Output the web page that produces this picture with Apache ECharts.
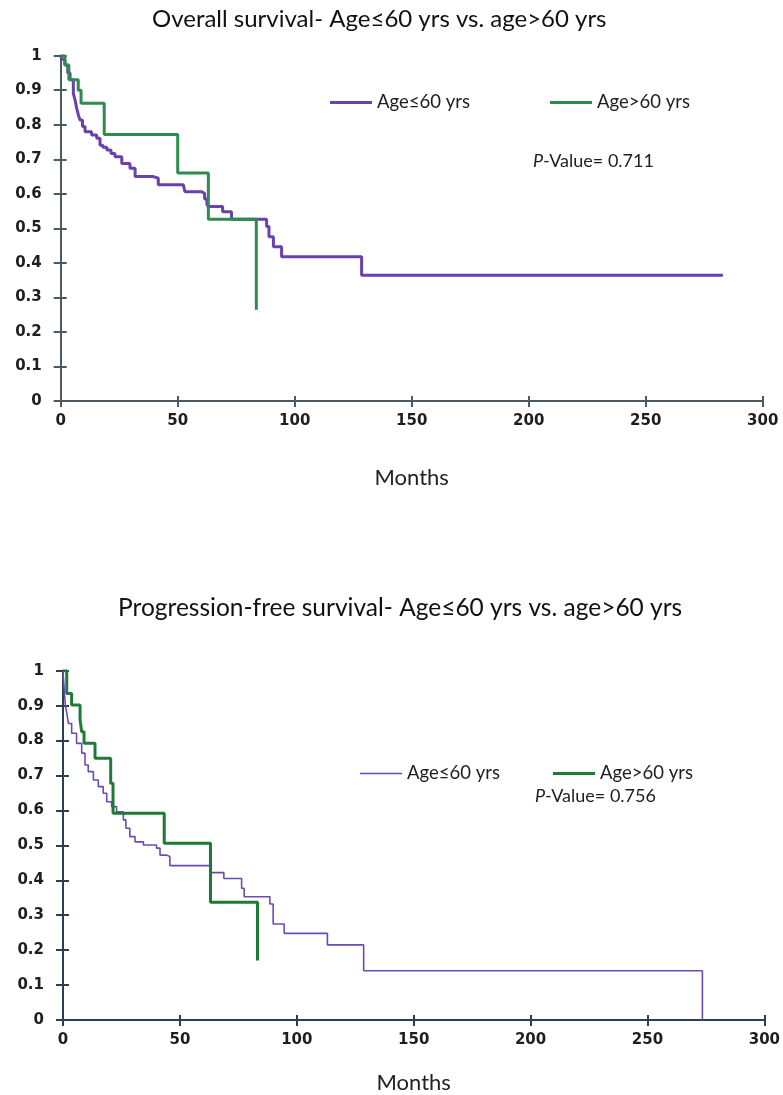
<!DOCTYPE html>
<html>
<head>
<meta charset="utf-8">
<script src="https://cdn.jsdelivr.net/npm/echarts@6/dist/echarts.min.js"></script>
<style>html,body{margin:0;padding:0;background:#fff;}#c{width:783px;height:1095px;}</style>
</head>
<body>
<div id="c"></div>
<script>
// ---- data ----
const titles = ['Overall survival- Age\u226460 yrs vs. age>60 yrs', 'Progression-free survival- Age\u226460 yrs vs. age>60 yrs'];
const seriesNames = ['Age\u226460 yrs', 'Age>60 yrs'];
const pValues = ['0.711', '0.756'];
const xTicks = [0, 50, 100, 150, 200, 250, 300];
const yTicks = [0, 0.1, 0.2, 0.3, 0.4, 0.5, 0.6, 0.7, 0.8, 0.9, 1];
const xLabel = 'Months';

// Overall survival, [month, survival after drop]
const osYoung = [[0,1],[0.4,0.99],[1.8,0.973],[3,0.95],[4,0.93],[5.4,0.891],[6.2,0.87],[6.8,0.848],[7.5,0.83],[8.2,0.814],[9.3,0.795],[10.4,0.78],[13.2,0.77],[15.4,0.761],[16.8,0.741],[18,0.735],[19.7,0.727],[21.5,0.717],[23.2,0.707],[26.1,0.688],[29.6,0.674],[31.8,0.65],[39.6,0.645],[41.7,0.626],[52.4,0.621],[53.1,0.606],[60.3,0.601],[61.5,0.585],[62.5,0.57],[63,0.563],[69.2,0.548],[73,0.526],[88,0.505],[89,0.476],[90.9,0.447],[94.4,0.418],[128.6,0.364],[283,0.364]];
const osOld = [[0,1],[1.8,0.973],[3.5,0.93],[7.5,0.90],[8.7,0.862],[18.6,0.772],[50,0.66],[63.1,0.526],[83.6,0.264]];
// Progression-free survival
const pfsYoung = [[0,1],[0.5,0.95],[1.0,0.9],[1.6,0.88],[2.3,0.849],[3.7,0.821],[5.8,0.792],[8.0,0.764],[9.4,0.730],[10.8,0.711],[13.0,0.687],[15.1,0.668],[17.2,0.649],[18.7,0.625],[20.8,0.611],[22.9,0.596],[25.8,0.573],[26.9,0.549],[28.6,0.525],[30.8,0.510],[34.4,0.501],[40.0,0.492],[41.5,0.472],[44.3,0.468],[45.7,0.442],[63.1,0.422],[68.8,0.405],[76.4,0.377],[77.5,0.353],[88.5,0.332],[89.9,0.275],[94.6,0.248],[113.1,0.215],[128.6,0.141],[273.5,0]];
const pfsOld = [[0,1],[1.6,0.935],[3.7,0.902],[7.3,0.86],[8.0,0.825],[9.0,0.792],[13.7,0.749],[20.4,0.678],[21.4,0.592],[43.3,0.506],[63.1,0.337],[83.2,0.170]];

// ---- styling ----
const purpleTop = '#6a3fae', greenTop = '#2e8b4e';
const purpleBot = '#6a4bb6', greenBot = '#1f7a36';
const axisTop = '#4d5963', axisBot = '#2e3f52';
const tickFont = {fontFamily: 'DejaVu Sans', fontWeight: 'bold', fontSize: 15, color: '#1e1e1e'};
const textFont = 'Lato';

const grids = [
  {left: 60.7, right: 20.3, top: 55.7, bottom: 694},
  {left: 63, right: 18, top: 670.7, bottom: 75}
];
const axColors = [axisTop, axisBot];
const nameGaps = [66, 52];

const xAxes = [], yAxes = [];
grids.forEach((g, i) => {
  const c = axColors[i];
  const common = {min: 0, max: 300, interval: 50, gridIndex: i, type: 'value', splitLine: {show: false}};
  xAxes.push(Object.assign({}, common, {
    position: 'bottom',
    axisLine: {show: true, onZero: false, lineStyle: {color: c, width: 2}},
    axisTick: {show: true, inside: false, length: 6, lineStyle: {color: c, width: 2}},
    axisLabel: Object.assign({margin: 13, formatter: v => xTicks.includes(v) ? String(v) : ''}, tickFont),
    name: xLabel, nameLocation: 'middle', nameGap: nameGaps[i],
    nameTextStyle: {fontFamily: textFont, fontSize: 22, color: '#222'}
  }));
  xAxes.push(Object.assign({}, common, {
    position: 'bottom',
    axisLine: {show: false, onZero: false},
    axisTick: {show: true, inside: true, length: 5, lineStyle: {color: c, width: 2}},
    axisLabel: {show: false}
  }));
  const yc = {min: 0, max: 1, interval: 0.1, gridIndex: i, type: 'value', splitLine: {show: false}};
  yAxes.push(Object.assign({}, yc, {
    position: 'left',
    axisLine: {show: true, onZero: false, lineStyle: {color: c, width: 2}},
    axisTick: {show: true, inside: false, length: 7, lineStyle: {color: c, width: 2}},
    axisLabel: Object.assign({margin: 19, formatter: v => {
      const t = yTicks.find(k => Math.abs(k - v) < 1e-6);
      return t === undefined ? '' : String(Math.round(t * 10) / 10);
    }}, tickFont)
  }));
  yAxes.push(Object.assign({}, yc, {
    position: 'left',
    axisLine: {show: false, onZero: false},
    axisTick: {show: true, inside: true, length: 6, lineStyle: {color: c, width: 2}},
    axisLabel: {show: false}
  }));
});

function km(name, data, gi, color, width) {
  return {
    name: name, type: 'line', step: 'end', data: data,
    xAxisIndex: gi * 2, yAxisIndex: gi * 2,
    showSymbol: false, symbol: 'none', silent: true, animation: false,
    lineStyle: {color: color, width: width}, itemStyle: {color: color}
  };
}

const legendText = {fontFamily: textFont, fontSize: 18.5, color: '#1e1e1e'};
function leg(name, left, top, color, h) {
  return {
    data: [name], left: left, top: top, icon: 'rect', itemWidth: 42, itemHeight: h,
    itemStyle: {color: color}, textStyle: legendText, selectedMode: false, padding: 0, itemGap: 0
  };
}
const pStyle = {fontFamily: textFont, fontSize: 18, fontWeight: 'normal', color: '#1e1e1e',
  rich: {i: {fontStyle: 'italic', fontFamily: textFont, fontSize: 18, color: '#1e1e1e'}}};

const option = {
  animation: false,
  title: [
    {text: titles[0], left: 152, top: 7, padding: 0, textStyle: {fontFamily: textFont, fontSize: 24, fontWeight: 'normal', color: '#111'}},
    {text: titles[1], left: 118, top: 596, padding: 0, textStyle: {fontFamily: textFont, fontSize: 24.5, fontWeight: 'normal', color: '#111'}},
    {text: '{i|P}-Value= ' + pValues[0], left: 533, top: 152, padding: 0, textStyle: pStyle},
    {text: '{i|P}-Value= ' + pValues[1], left: 535, top: 787, padding: 0, textStyle: pStyle}
  ],
  legend: [
    leg(seriesNames[0], 330, 93, purpleTop, 3),
    leg(seriesNames[1], 550, 93, greenTop, 3),
    leg(seriesNames[0], 360, 764, purpleBot, 1.5),
    leg(seriesNames[1], 553, 764, greenBot, 3)
  ],
  grid: grids,
  xAxis: xAxes,
  yAxis: yAxes,
  series: [
    km(seriesNames[0], osYoung, 0, purpleTop, 3),
    km(seriesNames[1], osOld, 0, greenTop, 3),
    km(seriesNames[0], pfsYoung, 1, purpleBot, 1.6),
    km(seriesNames[1], pfsOld, 1, greenBot, 3)
  ]
};
const chart = echarts.init(document.getElementById('c'), null, {renderer: 'canvas'});
chart.setOption(option);
</script>
</body>
</html>
